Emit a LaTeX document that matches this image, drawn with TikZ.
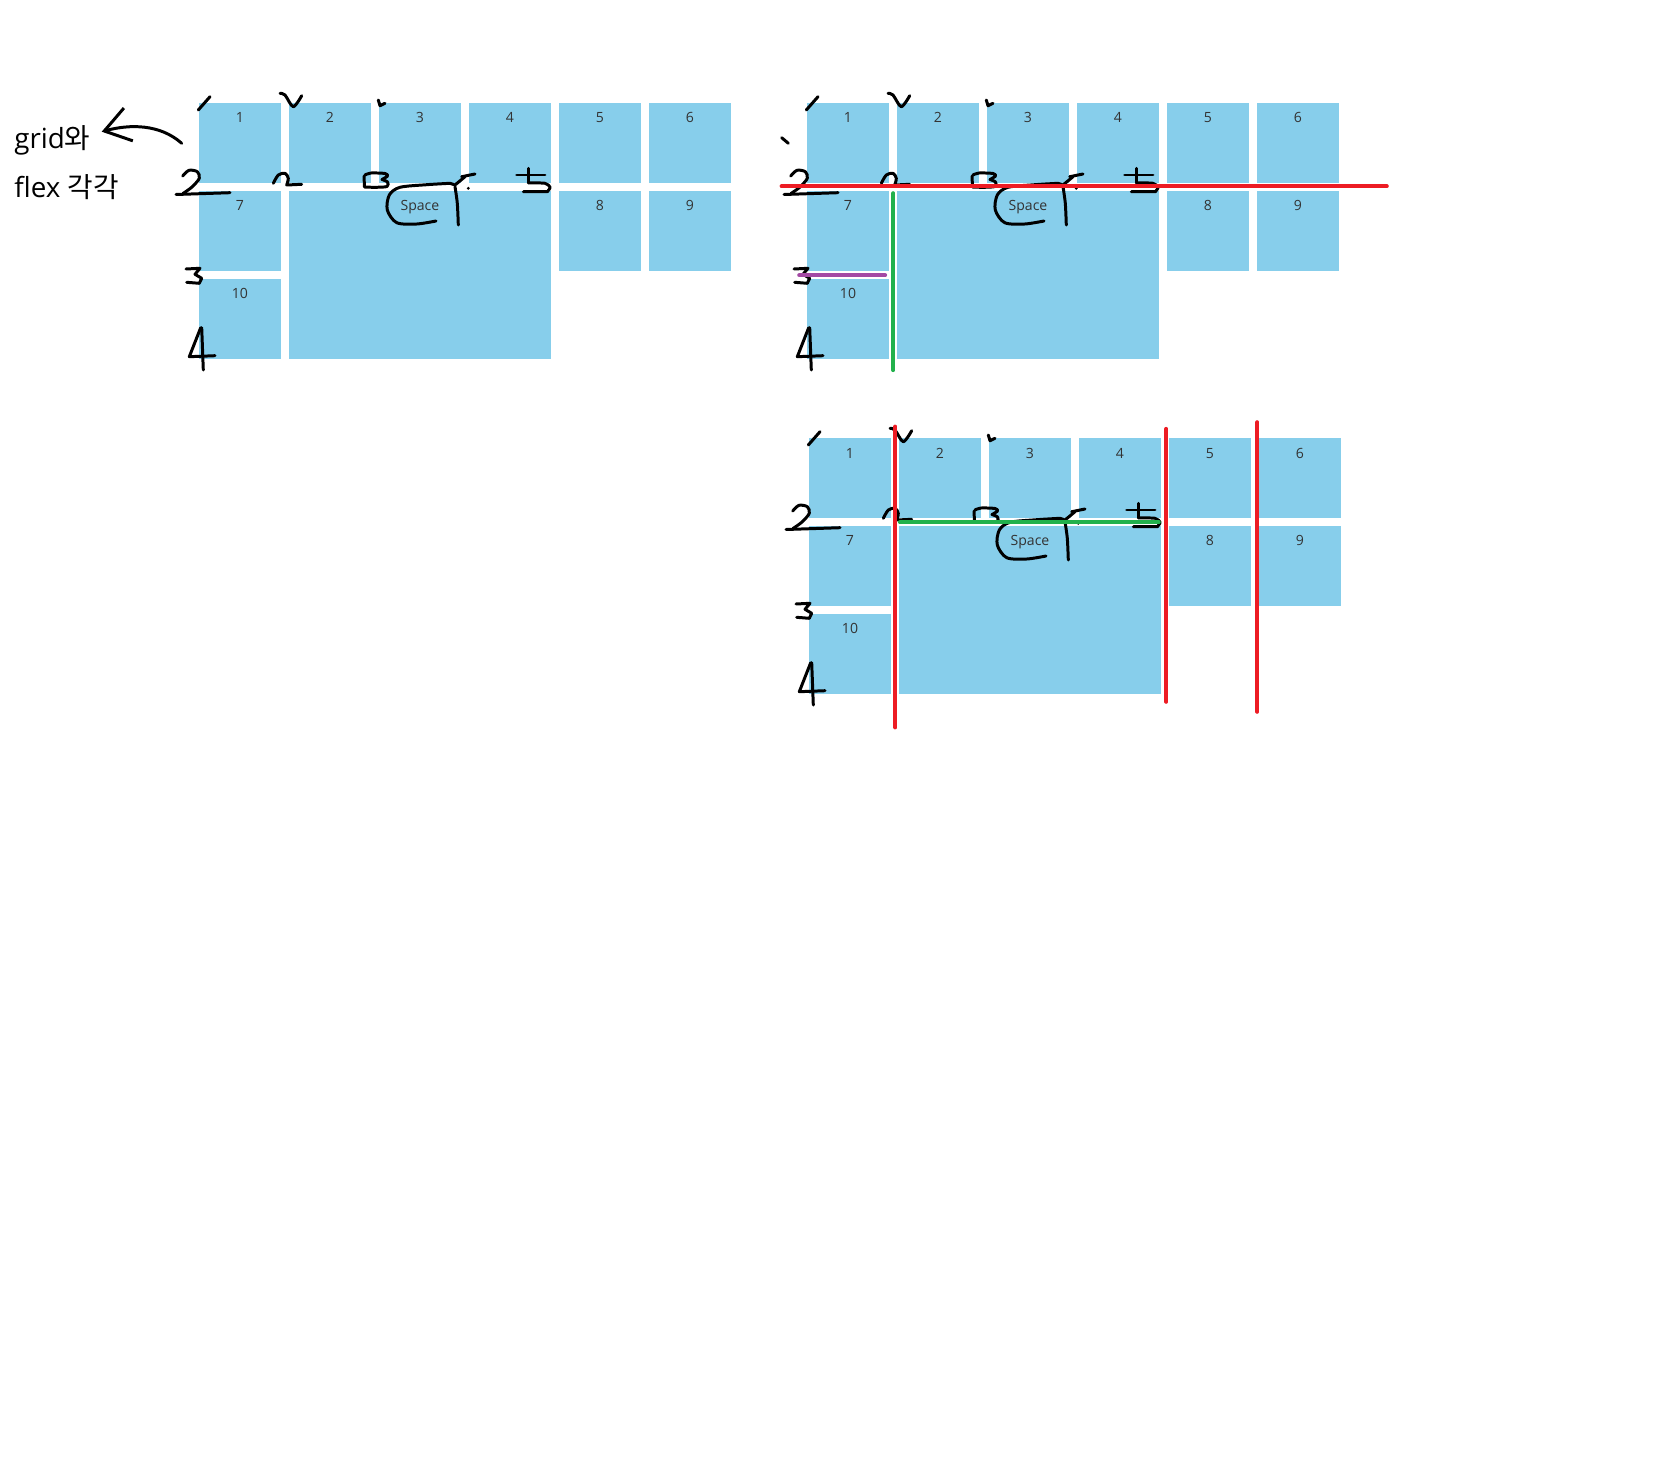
\documentclass[tikz,border=0pt]{standalone}
\usepackage{fontspec}
\setmainfont{Open Sans}
\newfontfamily\kor{Noto Sans CJK KR}
\usepackage{xcolor}
\usepackage{tikz}
\usetikzlibrary{positioning,arrows.meta}

\definecolor{cellblue}{RGB}{135,206,235}
\definecolor{penred}{RGB}{237,28,36}
\definecolor{pengreen}{RGB}{34,177,76}
\definecolor{penpurple}{RGB}{163,73,164}

% one block of boxes: #1 prefix, #2 top left corner
\newcommand{\cellgrid}[2]{%
  \node[cell=1, anchor=north west] (#1-1) at (#2) {};
  \foreach \n [remember=\n as \p (initially 1)] in {2,...,6}
    \node[cell=\n, right=0.16cm of #1-\p] (#1-\n) {};
  \node[cell=7, below=0.16cm of #1-1] (#1-7) {};
  \node[cell=10, below=0.16cm of #1-7] (#1-10) {};
  \node[cell=Space, minimum width=5.24cm, minimum height=3.36cm,
        below=0.16cm of #1-2.south west, anchor=north west] (#1-space) {};
  \node[cell=8, below=0.16cm of #1-5] (#1-8) {};
  \node[cell=9, below=0.16cm of #1-6] (#1-9) {};
}

% hand written line numbers, relative to the block corner
\newcommand{\penmarks}{%
  \draw[pen] (-0.7,7) -- (11,-6.3);
  \draw[pen] plot[smooth] coordinates {(81,-9.7) (86,-8) (94.3,3.7) (102.7,-7.3)};
  \draw[pen] (179.3,-3) -- (181,2.7) -- (186,0.3);
  % row 2
  \draw[pen] plot[smooth] coordinates {(-16.3,73) (-10,67.3) (-1.7,68.7) (0.3,75.3) (-7,84) (-16,90.5)};
  \draw[pen] (-23,91.5) -- (31,89.7);
  \draw[pen] plot[smooth] coordinates {(74.3,80.3) (79.3,72) (86,70.3) (89.3,75.3) (87.7,82)} -- (102.7,81.3);
  \draw[pen] plot[smooth] coordinates {(166,72) (172,70) (186,70.5) (188.5,73) (183,76.5)};
  \draw[pen] plot[smooth] coordinates {(183,76.5) (188.5,79) (188,83.5) (176,84.3) (165.5,84)} -- (165,73);
  % space loop and 4
  \draw[pen] plot[smooth] coordinates {(237,118) (217.7,121) (197.7,119.7) (188.3,107) (190.3,92) (201,84.3) (227.7,81.7) (251,80.3)};
  \draw[pen] (251,80.3) -- (256,82) -- (266,73.7);
  \draw[pen] (262.7,73.7) -- (276,71);
  \draw[pen] plot[smooth] coordinates {(256,83.7) (258.3,100.3) (259.3,122)};
  \fill (269.3,85.3) circle (1.6);
  % 5
  \draw[pen] (317.7,72) -- (346,72);
  \draw[pen] (329.3,65.3) -- (329.3,79.7);
  \draw[pen] plot[smooth] coordinates {(329.3,80) (346,80.3) (351,84.3) (348.3,88.7)} -- (324.3,88.7);
  % rows 3 and 4
  \draw[pen] (-13,166) -- (1,165.3) -- (-4,171.3) -- (2.7,175.3) -- (0.3,180.3) -- (-12.3,179.3);
  \draw[pen] (1.7,224.7) -- (-9.7,253.7) -- (16,252.7);
  \draw[pen] (2.7,224.7) -- (4.3,267);
}

\begin{document}
\begin{tikzpicture}[
    x=0.02cm, y=-0.02cm,
    cell/.style={fill=cellblue, minimum width=1.64cm, minimum height=1.6cm,
                 inner sep=0pt, outer sep=0pt, label={[num]north:#1}},
    num/.style={font=\fontsize{8}{9}\selectfont, text=black!80, anchor=base, yshift=-0.4cm},
    pen/.style={black, line width=1.7pt, line cap=round, line join=round},
    hiline/.style={line width=2.4pt, line cap=round},
    txt/.style={font=\fontsize{15.8}{18}\selectfont, inner sep=0pt, anchor=base west}
]
\useasboundingbox (0,0) rectangle (1660,1484);

\node[txt] (gridtxt) at (14,148) {grid{\kor 와}};
\node[txt] (flextxt) at (14,197) {flex {\kor 각각}};

\cellgrid{ga}{199,103}
\cellgrid{gb}{807,103}
\cellgrid{gc}{809,438}

\begin{scope}[shift={(199,103)}]
  \penmarks
\end{scope}
\begin{scope}[shift={(807,103)}]
  \penmarks
  \draw[pen] (-25.3,34.7) -- (-18.7,40.3);
\end{scope}
\begin{scope}[shift={(809,438)}]
  \penmarks
\end{scope}

% arrow back to the text
\coordinate (arrowtail) at (181.7,143.3);
\coordinate (arrowtip) at (101.7,131.7);
\draw[pen, -{Straight Barb[length=0.5cm, width=0.68cm]}] (arrowtail) .. controls (160,124) and (130,124) .. (arrowtip);

% lines in the second block
\coordinate (rowcut-l) at (781.7,186.3);
\coordinate (rowcut-r) at (1386.7,186.3);
\coordinate (colcut-t) at (893.3,193.3);
\coordinate (colcut-b) at (893.3,370);
\coordinate (row3-l) at (799.3,275.3);
\coordinate (row3-r) at (885,275.3);
\draw[hiline, penred] (rowcut-l) -- (rowcut-r);
\draw[hiline, pengreen] (colcut-t) -- (colcut-b);
\draw[hiline, penpurple] (row3-l) -- (row3-r);

% lines in the third block
\coordinate (cutA-t) at (895.3,426.7);
\coordinate (cutA-b) at (895.3,727.3);
\coordinate (cutB-t) at (1166.3,429);
\coordinate (cutB-b) at (1166.3,701.7);
\coordinate (cutC-t) at (1257.3,422.3);
\coordinate (cutC-b) at (1257.3,711.7);
\coordinate (spantop-l) at (900,522.3);
\coordinate (spantop-r) at (1158.7,522.3);
\draw[hiline, penred] (cutA-t) -- (cutA-b);
\draw[hiline, penred] (cutB-t) -- (cutB-b);
\draw[hiline, penred] (cutC-t) -- (cutC-b);
\draw[hiline, pengreen] (spantop-l) -- (spantop-r);

\end{tikzpicture}
\end{document}
